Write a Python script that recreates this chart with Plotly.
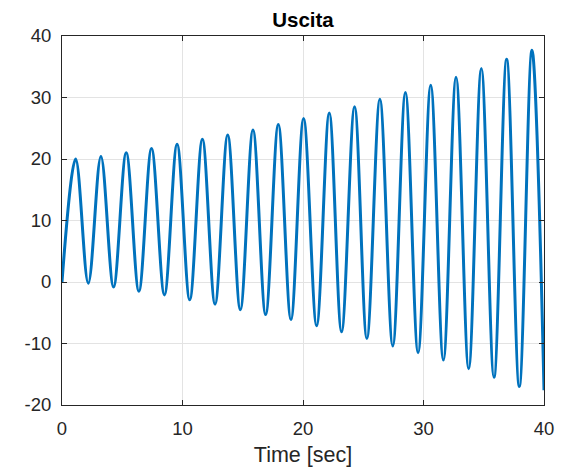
import plotly.graph_objects as go

# Extrema
peak_t = [1.13, 3.23, 5.33, 7.43, 9.55, 11.65, 13.75, 15.85, 17.95, 20.05,
          22.18, 24.28, 26.38, 28.5, 30.6, 32.7, 34.8, 36.9, 39.0]
peak_y = [20.0, 20.4, 21.0, 21.7, 22.4, 23.2, 23.9, 24.7, 25.6, 26.6,
          27.5, 28.5, 29.7, 30.8, 32.0, 33.3, 34.7, 36.2, 37.7]
trough_t = [0.0, 2.18, 4.28, 6.38, 8.5, 10.6, 12.7, 14.8, 16.9, 19.0,
            21.13, 23.2, 25.3, 27.45, 29.55, 31.65, 33.75, 35.85, 37.95, 40.0]
trough_y = [0.0, -0.2, -0.8, -1.5, -2.1, -2.9, -3.6, -4.5, -5.3, -6.1,
            -7.1, -8.1, -9.2, -10.4, -11.5, -12.7, -14.1, -15.5, -17.0, -17.6]

x_ticks = [0, 10, 20, 30, 40]
y_ticks = [-20, -10, 0, 10, 20, 30, 40]

# interleave troughs and peaks in time order
t_vals, y_vals = [], []
for i in range(len(trough_t)):
    t_vals.append(trough_t[i]); y_vals.append(trough_y[i])
    if i < len(peak_t):
        t_vals.append(peak_t[i]); y_vals.append(peak_y[i])

FONT = "Liberation Sans, Arial, Helvetica, sans-serif"
INK = "#262626"

fig = go.Figure()
fig.add_trace(go.Scatter(
    x=t_vals, y=y_vals, mode="lines",
    line=dict(color="#0072BD", width=3, shape="spline", smoothing=1.0),
    showlegend=False, hoverinfo="skip"))

axis_common = dict(
    showline=True, linecolor=INK, linewidth=1, mirror="ticks",
    ticks="inside", ticklen=5, tickcolor=INK, tickwidth=1,
    showgrid=True, gridcolor="#E3E3E3", gridwidth=1,
    zeroline=False, tickfont=dict(family=FONT, size=18.5, color=INK),
    automargin=False,
)

fig.update_xaxes(range=[0, 40], tickvals=x_ticks, ticktext=[str(v) for v in x_ticks],
                 ticklabelstandoff=7,
                 title=dict(text="Time [sec]", font=dict(family=FONT, size=21.5, color=INK), standoff=8),
                 **axis_common)
fig.update_yaxes(range=[-20, 40], tickvals=y_ticks, ticktext=[str(v) for v in y_ticks],
                 ticklabelstandoff=6, **axis_common)

# the page body has an 8px margin, so the figure is sized/offset to compensate
W, H = 556, 460
fig.update_layout(
    width=W, height=H,
    margin=dict(l=54, r=20, t=28, b=63, autoexpand=False),
    plot_bgcolor="white", paper_bgcolor="white",
    title=dict(text="<b>Uscita</b>", x=0.5, xref="paper", xanchor="center",
               y=1 - 12 / H, yref="container", yanchor="middle",
               font=dict(family=FONT, size=20.5, color="black")),
)

fig.write_html("out.html")
